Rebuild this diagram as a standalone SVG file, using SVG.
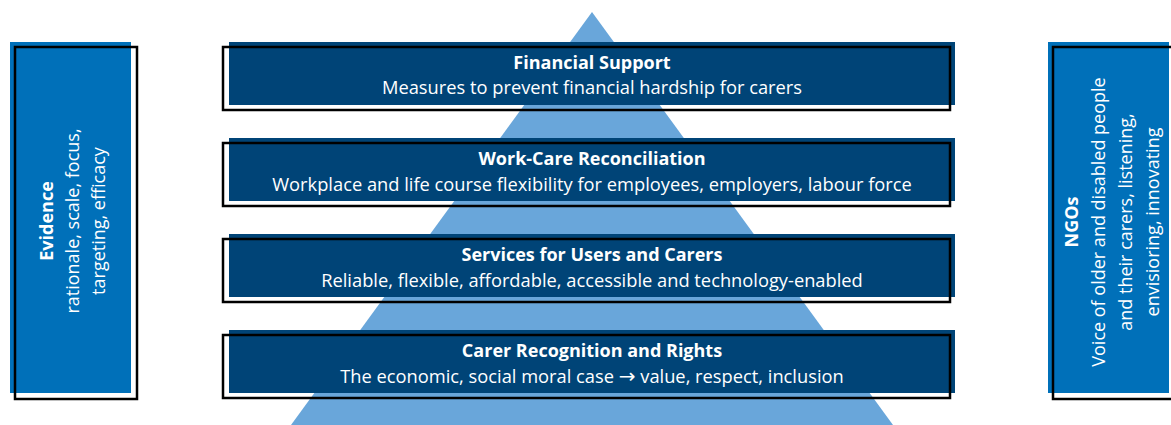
<svg xmlns="http://www.w3.org/2000/svg" width="1171" height="425" viewBox="0 0 1171 425">
<style>
.band{fill:#004477}
.side{fill:#0070b9}
.frame{fill:none;stroke:#000;stroke-width:2.5}
.t{font-family:"Open Sans","Liberation Sans",sans-serif;fill:#fff;text-anchor:middle}
.b{font-weight:bold;font-size:18px}
.s{font-size:18.3px}
.r{font-size:18px}
.arr{font-family:"DejaVu Sans",sans-serif;font-size:20px}
</style>
<rect width="1171" height="425" fill="#fff"/>
<polygon id="pyramid" points="592,12 893,425 291,425" fill="#69a6da"/>
<g id="evidence">
<rect class="side" x="10" y="42" width="121" height="351"/>
<rect class="frame" x="15" y="47" width="122" height="352"/>
<g transform="translate(0,221) rotate(-90)">
<text class="t b" x="0" y="53">Evidence</text>
<text class="t r" x="0" y="79">rationale, scale, focus,</text>
<text class="t r" x="0" y="105">targeting, efficacy</text>
</g>
</g>
<g id="ngos">
<rect class="side" x="1048" y="42" width="121" height="351"/>
<rect class="frame" x="1053" y="47" width="122" height="352"/>
<g transform="translate(0,222) rotate(-90)">
<text class="t b" x="0" y="1078">NGOs</text>
<text class="t r" x="0" y="1105">Voice of older and disabled people</text>
<text class="t r" x="0" y="1132">and their carers, listening,</text>
<text class="t r" x="0" y="1159">envisioring, innovating</text>
</g>
</g>
<g id="financial">
<rect class="band" x="229" y="42" width="726" height="63"/>
<rect class="frame" x="223" y="47" width="727" height="63"/>
<text class="t b" x="592" y="69">Financial Support</text>
<text class="t s" x="592" y="94">Measures to prevent financial hardship for carers</text>
</g>
<g id="workcare">
<rect class="band" x="229" y="138" width="726" height="63"/>
<rect class="frame" x="223" y="143" width="727" height="63"/>
<text class="t b" x="592" y="165">Work-Care Reconciliation</text>
<text class="t s" x="592" y="191">Workplace and life course flexibility for employees, employers, labour force</text>
</g>
<g id="services">
<rect class="band" x="229" y="234" width="726" height="63"/>
<rect class="frame" x="223" y="239" width="727" height="63"/>
<text class="t b" x="592" y="261">Services for Users and Carers</text>
<text class="t s" x="592" y="287">Reliable, flexible, affordable, accessible and technology-enabled</text>
</g>
<g id="carer">
<rect class="band" x="229" y="330" width="726" height="63"/>
<rect class="frame" x="223" y="335" width="727" height="63"/>
<text class="t b" x="592" y="357">Carer Recognition and Rights</text>
<text class="t s" x="592" y="383">The economic, social moral case <tspan class="arr">→</tspan> value, respect, inclusion</text>
</g>
<g id="connectors"/>
</svg>
